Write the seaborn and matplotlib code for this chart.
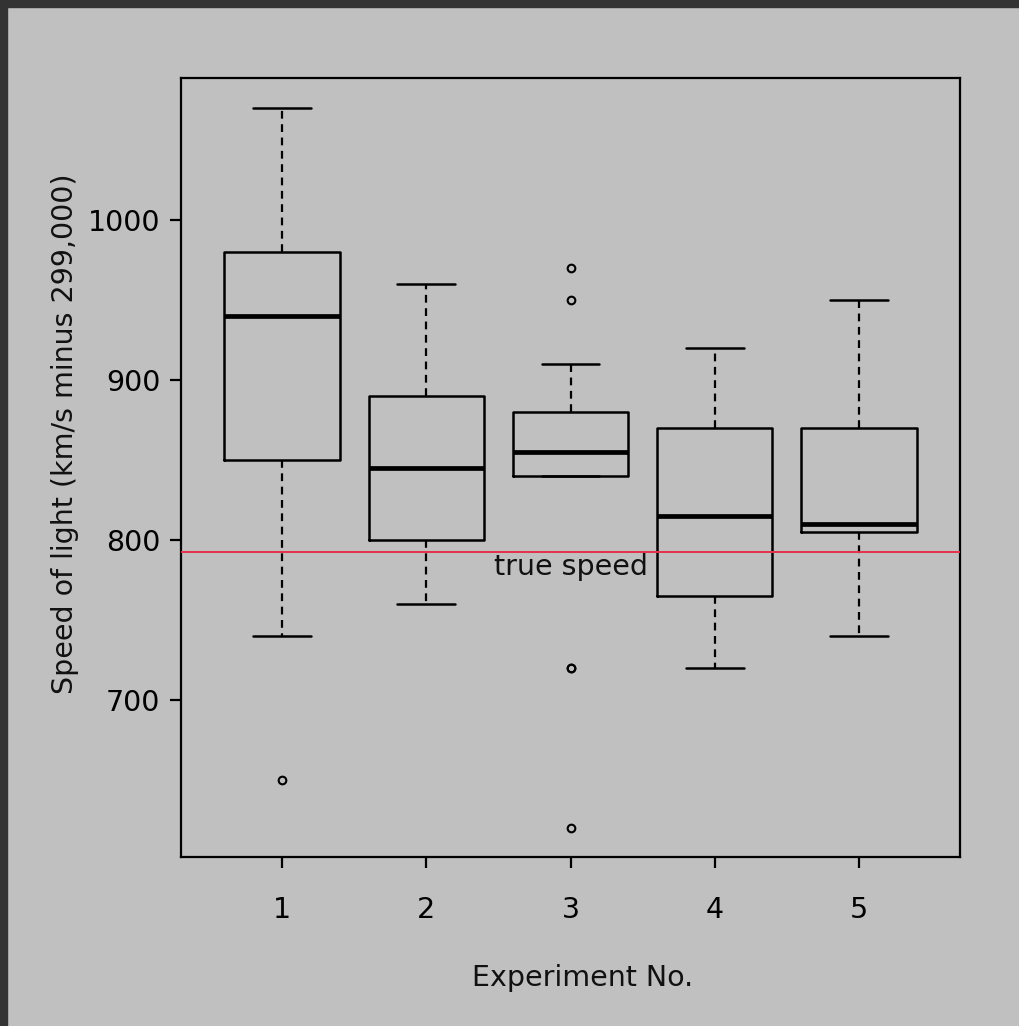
import numpy as np
import pandas as pd
import matplotlib.pyplot as plt
import seaborn as sns
from matplotlib.patches import Rectangle

# Michelson speed of light measurements (km/s minus 299,000), 20 runs per experiment
expt1 = [850, 740, 900, 1070, 930, 850, 950, 980, 980, 880, 1000, 980, 930, 650, 760, 810, 1000, 1000, 960, 960]
expt2 = [960, 940, 960, 940, 880, 800, 850, 880, 900, 840, 830, 790, 810, 880, 880, 830, 800, 790, 760, 800]
expt3 = [880, 880, 880, 860, 720, 720, 620, 860, 970, 950, 880, 910, 850, 870, 840, 840, 850, 840, 840, 840]
expt4 = [890, 810, 810, 820, 800, 770, 760, 740, 750, 760, 910, 920, 890, 860, 880, 720, 840, 850, 850, 780]
expt5 = [890, 840, 780, 810, 760, 810, 790, 810, 820, 850, 870, 870, 810, 740, 810, 940, 950, 800, 810, 870]
true_speed = 792.458

bg = '#c0c0c0'
fs = 20.5

# long format table for seaborn
rows = []
for i, vals in enumerate([expt1, expt2, expt3, expt4, expt5], start=1):
    for v in vals:
        rows.append({'Expt': i, 'Speed': v})
data = pd.DataFrame(rows)

sns.set_style('ticks', {'axes.facecolor': bg, 'figure.facecolor': bg,
                        'axes.edgecolor': 'black', 'axes.labelcolor': '#111111',
                        'xtick.color': 'black', 'ytick.color': 'black'})
plt.rcParams['font.family'] = ['DejaVu Sans']
plt.rcParams['text.color'] = '#111111'

fig = plt.figure(figsize=(10.2, 10.26), dpi=100)
ax = fig.add_axes([181 / 1020, 1 - 857 / 1026, 779 / 1020, 779 / 1026])

# R-style hinges (Tukey) instead of linear quantiles while the boxes are computed
_pct = np.percentile
np.percentile = lambda a, q, **kw: _pct(a, q, method='midpoint', **kw)
sns.boxplot(data=data, x='Expt', y='Speed', ax=ax, fill=False, width=0.8,
            color='black', linewidth=1.8,
            boxprops={'linewidth': 1.8, 'color': 'black'},
            medianprops={'linewidth': 3.4, 'color': 'black'},
            whiskerprops={'linewidth': 1.6, 'linestyle': (0, (3.5, 2.5)), 'color': 'black'},
            capprops={'linewidth': 1.8, 'color': 'black'},
            flierprops={'marker': 'o', 'markersize': 5.5, 'markerfacecolor': 'none',
                        'markeredgecolor': 'black', 'markeredgewidth': 1.5})
np.percentile = _pct

# true speed reference
ax.axhline(true_speed, color='#e8304a', linewidth=1.4, zorder=5)
ax.text(2, 783, 'true speed', ha='center', va='center', fontsize=fs, zorder=6)

ax.set_xlim(-0.7, 4.7)
ax.set_ylim(602, 1088.75)
ax.set_yticks([700, 800, 900, 1000])
ax.tick_params(axis='both', length=8, width=1.6, labelsize=fs)
ax.tick_params(axis='x', pad=20)
ax.tick_params(axis='y', pad=7)
for s in ax.spines.values():
    s.set_visible(True)
    s.set_linewidth(1.6)

ax.set_xlabel('Experiment No.', fontsize=fs, va='center')
ax.set_ylabel('Speed of light (km/s minus 299,000)', fontsize=fs, va='center')
ax.xaxis.set_label_coords((583 - 181) / 779, (857 - 978) / 779)
ax.yaxis.set_label_coords((65 - 181) / 779, (857 - 434) / 779)

# dark frame strips along top and left edge
fig.add_artist(Rectangle((0, 1 - 7 / 1026), 1, 7 / 1026, transform=fig.transFigure, color='#333333'))
fig.add_artist(Rectangle((0, 0), 7 / 1020, 1, transform=fig.transFigure, color='#333333'))

plt.savefig('out.png', dpi=100, facecolor=bg)
